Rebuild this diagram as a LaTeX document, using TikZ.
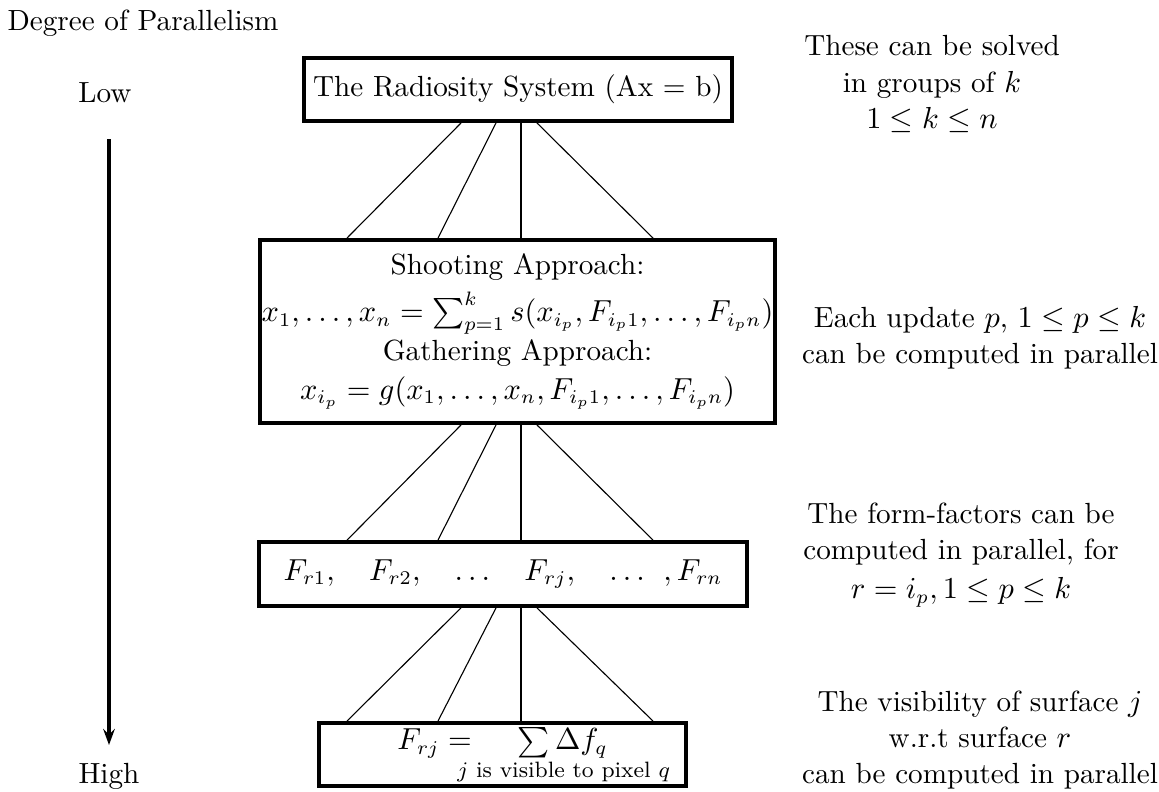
\documentclass[tikz,border=0pt]{standalone}
\usepackage{amsmath}
\usepackage{tikz}
\usetikzlibrary{arrows.meta}

\begin{document}
\begin{tikzpicture}[
  x=0.36pt, y=-0.36pt,
  font=\fontsize{10.5}{13}\selectfont,
  stage/.style={rectangle, draw, line width=1.4pt, inner sep=0pt,
                align=center},
  remark/.style={align=center, inner sep=0pt},
  slant/.style={line width=0.4pt},
  stem/.style={line width=0.8pt},
  axis/.style={line width=1.4pt,
               -{Stealth[length=5.8pt, width=4.2pt, inset=2pt]}},
]
\useasboundingbox (0,0) rectangle (1159,791);

%% --- axe gauche (degre de parallelisme) ---
\node[anchor=west, inner sep=0pt] (title) at (7,23) {Degree of Parallelism};
\node[inner sep=0pt] (low)  at (105,93)  {Low};
\node[inner sep=0pt] (high) at (109,776) {High};
\coordinate (axtop) at (109,139);
\coordinate (axbot) at (109,745);
\draw[axis] (axtop) -- (axbot);

%% --- niveaux ---
\node[stage, minimum width=154.1pt, minimum height=22.7pt] (b1) at (518,89.5)
  {The Radiosity System (Ax = b)};

\node[stage, minimum width=185.4pt, minimum height=65.9pt] (b2) at (517.5,331.5)
  {Shooting Approach:\\[4pt]
   $x_1,\ldots,x_n = \sum_{p=1}^{k} s(x_{i_p},F_{i_p1},\ldots,F_{i_pn})$\\[1pt]
   Gathering Approach:\\[1pt]
   $x_{i_p} = g(x_1,\ldots,x_n,F_{i_p1},\ldots,F_{i_pn})$};

\node[stage, minimum width=175.7pt, minimum height=23pt] (b3) at (503,574)
  {$F_{r1},\quad F_{r2},\quad \ldots\quad F_{rj},\quad \ldots\;\,,F_{rn}$};

\node[stage, minimum width=132.1pt, minimum height=22.7pt] (b4) at (502.5,754.5)
  {$F_{rj} = \quad\; \sum \Delta f_q$\\[-3pt]
   \hspace*{44pt}{\footnotesize $j$ is visible to pixel $q$}};

%% --- liens entre niveaux ---
\draw[slant] (b1.south -| 461,0) -- (b2.north -| 347,0);
\draw[slant] (b1.south -| 496,0) -- (b2.north -| 438,0);
\draw[stem]  (b1.south -| 521,0) -- (b2.north -| 521,0);
\draw[slant] (b1.south -| 537,0) -- (b2.north -| 653,0);

\draw[slant] (b2.south -| 461,0) -- (b3.north -| 347,0);
\draw[slant] (b2.south -| 496,0) -- (b3.north -| 438,0);
\draw[stem]  (b2.south -| 521,0) -- (b3.north -| 521,0);
\draw[slant] (b2.south -| 537,0) -- (b3.north -| 653,0);

\draw[slant] (b3.south -| 461,0) -- (b4.north -| 347,0);
\draw[slant] (b3.south -| 496,0) -- (b4.north -| 438,0);
\draw[stem]  (b3.south -| 521,0) -- (b4.north -| 521,0);
\draw[slant] (b3.south -| 537,0) -- (b4.north -| 653,0);

%% --- remarques a droite ---
\node[remark] (r1) at (932,84)
  {These can be solved\\ in groups of $k$\\ $1 \le k \le n$};
\node[remark] (r2) at (980,338)
  {Each update $p$, $1 \le p \le k$\\ can be computed in parallel};
\node[remark] (r3) at (961,555)
  {The form-factors can be\\ computed in parallel, for\\[1pt]
   $r = i_p, 1 \le p \le k$};
\node[remark] (r4) at (980,740)
  {The visibility of surface $j$\\ w.r.t surface $r$\\
   can be computed in parallel};
\end{tikzpicture}
\end{document}
